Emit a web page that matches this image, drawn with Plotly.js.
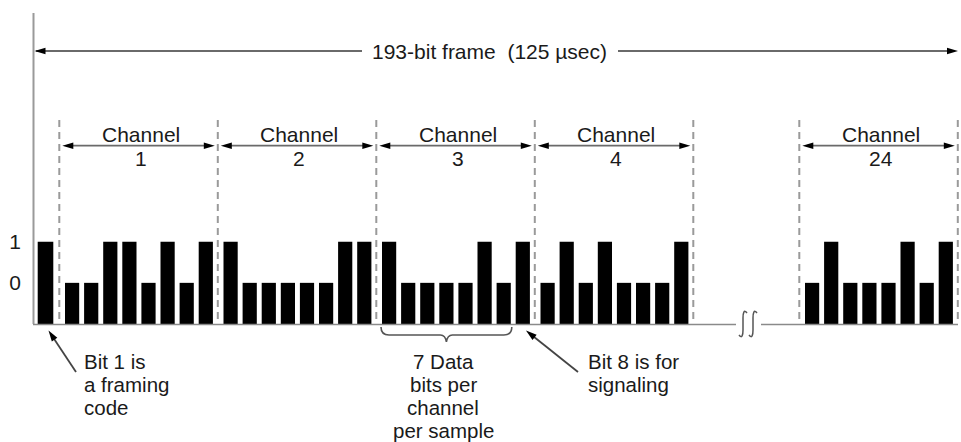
<!DOCTYPE html>
<html><head><meta charset="utf-8">
<script src="https://cdn.plot.ly/plotly-3.0.1.min.js"></script>
<style>html,body{margin:0;padding:0;background:#fff}#chart{width:961px;height:442px}</style>
</head><body><div id="chart"></div>
<script>
// ---------- data ----------
const levelValues = [1, 2];
const levelLabels = ['0', '1'];
const framingBit = [1];
const channelNames = ['1', '2', '3', '4', '24'];
const ch1Bits  = [0, 0, 1, 1, 0, 1, 0, 1];
const ch2Bits  = [1, 0, 0, 0, 0, 0, 1, 1];
const ch3Bits  = [1, 0, 0, 0, 0, 1, 0, 1];
const ch4Bits  = [0, 1, 0, 1, 0, 0, 0, 1];
const ch24Bits = [0, 1, 0, 0, 0, 1, 0, 1];
const frameLabel = '193-bit frame  (125 \u00b5sec)';
const channelWord = 'Channel';
const note1Lines = ['Bit 1 is', 'a framing', 'code'];
const note7Lines = ['7 Data', 'bits per', 'channel', 'per sample'];
const note8Lines = ['Bit 8 is for', 'signaling'];

// ---------- geometry (pixel based layout) ----------
const W = 961, H = 442, ML = 30;
const BASE = 324, UNIT = 41.15;
const Y = p => (BASE - p) / UNIT;
const PITCH = 19.1, BARW = 14.2, FRAMEW = 15.6, FRAMEX = 45.5;
const CHW = 158.5, CH0 = 59.3, CH24 = 799.3, BAR_OFF = 5.7;
const chStarts = [CH0, CH0 + CHW, CH0 + 2 * CHW, CH0 + 3 * CHW, CH24];
const allChannels = [ch1Bits, ch2Bits, ch3Bits, ch4Bits, ch24Bits];
const FONT = 'Liberation Sans, Arial, Helvetica, sans-serif';
const TXT = '#1a1a1a', LINE = '#6a6a6a', DASHC = '#9a9a9a';

const bx = [], by = [], bw = [];
bx.push(FRAMEX); by.push(framingBit[0] + 1); bw.push(FRAMEW);
allChannels.forEach((bits, k) => bits.forEach((b, j) => {
  bx.push(chStarts[k] + BAR_OFF + BARW / 2 + j * PITCH);
  by.push(b + 1);
  bw.push(BARW);
}));

const shapes = [];
const annotations = [];
function seg(x0, y0, x1, y1, color, width, dash) {
  shapes.push({type: 'line', xref: 'x', yref: 'y', x0: x0, x1: x1, y0: Y(y0), y1: Y(y1),
    line: {color: color, width: width, dash: dash || 'solid'}});
}
function head(tx, ty, dx, dy, L, hw) {
  L = L || 11; hw = hw || 3.3;
  const n = Math.hypot(dx, dy); dx /= n; dy /= n;
  const bxp = tx - L * dx, byp = ty - L * dy;
  const px = -dy, py = dx;
  const p = (x, y) => x.toFixed(2) + ',' + Y(y).toFixed(4);
  shapes.push({type: 'path', xref: 'x', yref: 'y',
    path: 'M' + p(tx, ty) + 'L' + p(bxp + hw * px, byp + hw * py) + 'L' + p(bxp - hw * px, byp - hw * py) + 'Z',
    fillcolor: '#000', line: {width: 0}});
}
function arrow(x0, y0, x1, y1) { // head at (x1,y1)
  const d = Math.hypot(x1 - x0, y1 - y0);
  seg(x0, y0, x1 - 6 * (x1 - x0) / d, y1 - 6 * (y1 - y0) / d, '#444', 1.8);
  head(x1, y1, x1 - x0, y1 - y0);
}
function text(s, x, y, anchor, size) {
  annotations.push({text: s, x: x, y: Y(y), xref: 'x', yref: 'y', showarrow: false,
    xanchor: anchor || 'center', yanchor: 'middle',
    font: {family: FONT, size: size || 21, color: TXT}});
}

// axis line and baseline
seg(33.5, 13, 33.5, BASE, DASHC, 2);
seg(33, BASE + 0.5, 736, BASE + 0.5, '#8a8a8a', 1.6);
seg(761, BASE + 0.5, 958, BASE + 0.5, '#8a8a8a', 1.6);
// break marks
[743, 753].forEach(cx => {
  const p = (x, y) => x + ',' + Y(y).toFixed(4);
  shapes.push({type: 'path', xref: 'x', yref: 'y',
    path: 'M' + p(cx + 4, 313) + 'C' + p(cx + 1, 309) + ' ' + p(cx, 313) + ' ' + p(cx, 318) +
          'L' + p(cx, 330) + 'C' + p(cx, 335) + ' ' + p(cx - 1, 339) + ' ' + p(cx - 4, 335),
    line: {color: '#555', width: 1.5}});
});

// channel boundaries (dashed)
const dashX = [];
chStarts.forEach(s => { dashX.push(s); dashX.push(s + CHW); });
[...new Set(dashX.map(v => v.toFixed(1)))].forEach(v => seg(+v, 120, +v, BASE, DASHC, 2, '7px,5px'));

// frame arrow
const FRAME_Y = 51;
seg(36, FRAME_Y, 362, FRAME_Y, LINE, 1.8);
seg(618, FRAME_Y, 952, FRAME_Y, LINE, 1.8);
head(34.5, FRAME_Y, -1, 0);
head(958, FRAME_Y, 1, 0);
text(frameLabel, 489, FRAME_Y);

// channel headers
chStarts.forEach((s, k) => {
  const e = s + CHW, ay = 145.7;
  seg(s + 8, ay, e - 8, ay, LINE, 1.8);
  head(s + 3, ay, -1, 0);
  head(e - 3, ay, 1, 0);
  text(channelWord, (s + e) / 2 + 2, 134.5);
  text(channelNames[k], (s + e) / 2 + 2, 158);
});

// brace under channel 3 data bits
const br0 = chStarts[2] + BAR_OFF, br1 = chStarts[2] + BAR_OFF + 6 * PITCH + BARW;
const bc = (br0 + br1) / 2;
{
  const p = (x, y) => x.toFixed(2) + ',' + Y(y).toFixed(4);
  shapes.push({type: 'path', xref: 'x', yref: 'y',
    path: 'M' + p(br0 - 1, 327) + 'Q' + p(br0 - 1, 335) + ' ' + p(br0 + 7, 335) +
          'L' + p(bc - 6, 335) + 'Q' + p(bc - 1, 335) + ' ' + p(bc, 342) +
          'Q' + p(bc + 1, 335) + ' ' + p(bc + 6, 335) +
          'L' + p(br1 - 7, 335) + 'Q' + p(br1 + 1, 335) + ' ' + p(br1 + 1, 327),
    line: {color: '#555', width: 1.6}});
}

// pointer arrows
arrow(76, 372, 48.5, 330.5);
arrow(578, 372, 526, 330.5);

// notes
const NOTE_Y = 361, NOTE_DY = 23.3, NOTE_FS = 20.5;
note1Lines.forEach((s, i) => text(s, 81.5, NOTE_Y + i * NOTE_DY, 'left', NOTE_FS));
note7Lines.forEach((s, i) => text(s, bc - 3, NOTE_Y + i * NOTE_DY, 'center', NOTE_FS));
note8Lines.forEach((s, i) => text(s, 586, NOTE_Y + i * NOTE_DY, 'left', NOTE_FS));

const data = [{
  type: 'bar', x: bx, y: by, width: bw, base: 0,
  marker: {color: '#000', line: {width: 0}},
  hoverinfo: 'skip', showlegend: false
}];

const layout = {
  width: W, height: H,
  margin: {l: ML, r: 0, t: 0, b: 0, pad: 0},
  paper_bgcolor: '#fff', plot_bgcolor: '#fff',
  showlegend: false,
  xaxis: {range: [ML, W], visible: false, fixedrange: true},
  yaxis: {range: [Y(H), Y(0)], showgrid: false, zeroline: false, showline: false,
    ticks: '', tickvals: levelValues, ticktext: levelLabels, ticklabelstandoff: 8,
    tickfont: {family: FONT, size: 21, color: TXT}, fixedrange: true},
  shapes: shapes,
  annotations: annotations
};

Plotly.newPlot('chart', data, layout, {staticPlot: true, displayModeBar: false});
</script>
</body></html>
